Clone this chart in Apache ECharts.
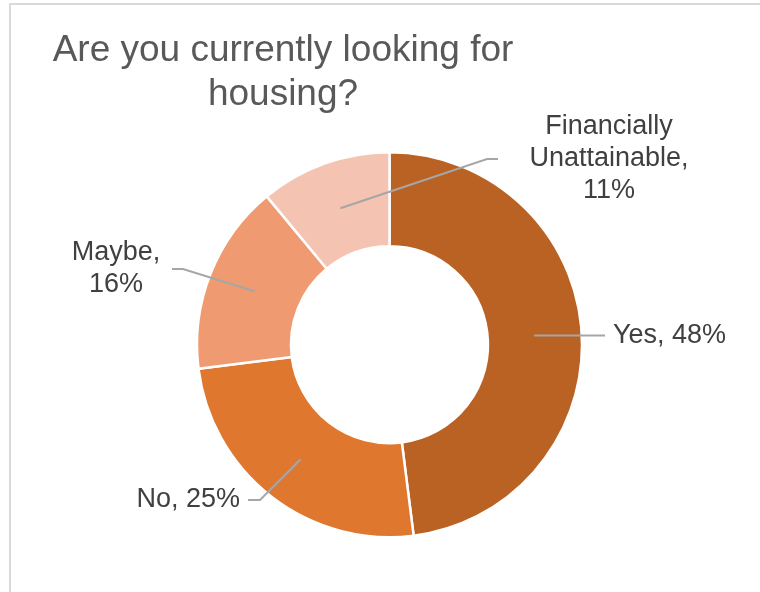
<!DOCTYPE html>
<html>
<head>
<meta charset="utf-8">
<script src="https://cdn.jsdelivr.net/npm/echarts@6/dist/echarts.min.js"></script>
<style>
  html, body { margin: 0; padding: 0; background: #fff; overflow: hidden; }
  #frame { position: absolute; left: 9px; top: 3px; width: 800px; height: 700px;
           border: 2px solid #d9d9d9; box-sizing: border-box; }
  #chart { position: absolute; left: 0; top: 0; width: 760px; height: 592px; }
</style>
</head>
<body>
<div id="frame"></div>
<div id="chart"></div>
<script>
// Survey answers and their shares (percent)
const categories = ['Yes', 'No', 'Maybe', 'Financially Unattainable'];
const shares = [48, 25, 16, 11];
const sliceColors = ['#B96224', '#DF772F', '#F09A72', '#F5C3B1'];
const titleText = 'Are you currently looking for\nhousing?';

// Where each data label sits and how its leader line bends into it
const labelPlacement = {
  'Yes':                      { x: 613, y: 336, align: 'left',   elbowDx: -8,   endDx: -8 },
  'No':                       { x: 240, y: 500, align: 'right',  elbowDx: 20,   endDx: 8 },
  'Maybe':                    { x: 116, y: 269, align: 'center', elbowDx: 67,   endDx: 56 },
  'Financially Unattainable': { x: 609, y: 159, align: 'center', elbowDx: -122, endDx: -111 }
};

const FONT = '"Liberation Sans", Arial, sans-serif';
const data = categories.map((name, i) => ({ name, value: shares[i] }));

const chart = echarts.init(document.getElementById('chart'), null, { renderer: 'canvas' });

const center = [389.5, 344.7];

chart.setOption({
  animation: false,
  backgroundColor: 'transparent',
  title: {
    text: titleText,
    left: 278,
    top: 24,
    textAlign: 'center',
    textStyle: {
      fontFamily: FONT,
      fontSize: 37,
      fontWeight: 'normal',
      color: '#595959',
      lineHeight: 44
    }
  },
  color: sliceColors,
  series: [
    {
      // the donut itself
      type: 'pie',
      z: 2,
      center: center,
      radius: [98.5, 192.5],
      startAngle: 90,
      clockwise: true,
      silent: true,
      avoidLabelOverlap: false,
      label: { show: false },
      labelLine: { show: false },
      itemStyle: { borderColor: '#ffffff', borderWidth: 2.5 },
      emphasis: { disabled: true },
      data: data
    },
    {
      // invisible ring whose outer edge anchors the leader lines mid-band
      type: 'pie',
      z: 6,
      center: center,
      radius: [98.5, 145],
      startAngle: 90,
      clockwise: true,
      silent: true,
      avoidLabelOverlap: false,
      itemStyle: { color: 'rgba(0,0,0,0)', borderWidth: 0 },
      emphasis: { disabled: true },
      label: {
        show: true,
        position: 'outside',
        fontFamily: FONT,
        fontSize: 27,
        lineHeight: 32,
        color: '#404040',
        formatter: p => {
          const head = p.name.replace(' ', '\n');
          return head + ',' + (p.dataIndex >= 2 ? '\n' : ' ') + p.value + '%';
        }
      },
      labelLine: {
        show: true,
        length: 10,
        length2: 10,
        lineStyle: { color: '#A6A6A6', width: 2 }
      },
      labelLayout: params => {
        const cfg = labelPlacement[categories[params.dataIndex]];
        const start = params.labelLinePoints[0];
        return {
          x: cfg.x,
          y: cfg.y,
          align: cfg.align,
          verticalAlign: 'middle',
          hideOverlap: false,
          labelLinePoints: [
            [start[0], start[1]],
            [cfg.x + cfg.elbowDx, cfg.align === 'left' ? start[1] : cfg.y],
            [cfg.x + cfg.endDx, cfg.align === 'left' ? start[1] : cfg.y]
          ]
        };
      },
      data: data
    }
  ]
});
</script>
</body>
</html>
